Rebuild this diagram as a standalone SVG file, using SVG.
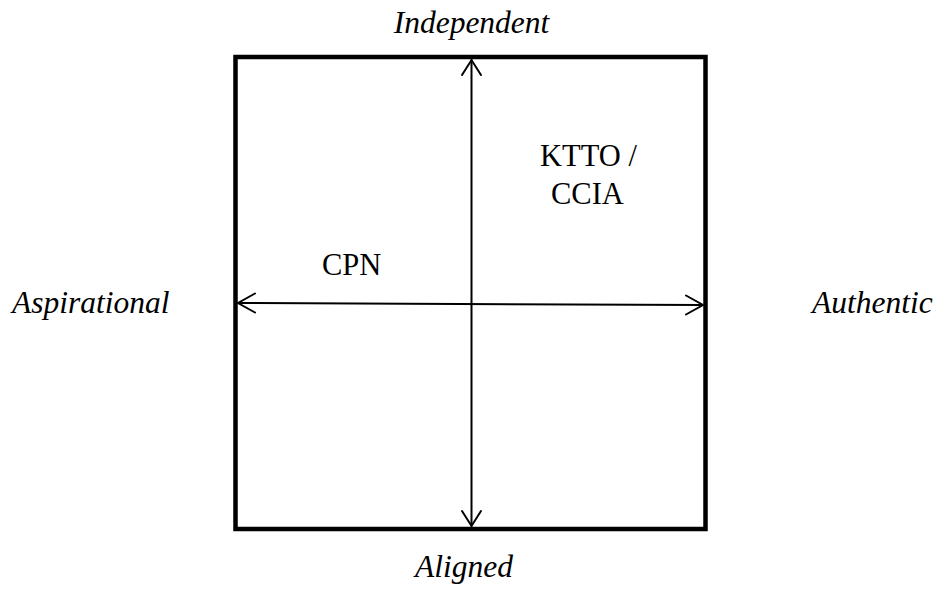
<svg xmlns="http://www.w3.org/2000/svg" width="940" height="590" viewBox="0 0 940 590">
<style>
.axis{font-family:"Liberation Serif","Times New Roman",serif;font-style:italic;font-size:31.5px;fill:#000}
.lbl{font-family:"Liberation Serif","Times New Roman",serif;font-size:30.5px;fill:#000}
.ln{stroke:#000;stroke-width:2;fill:none}
.hd{stroke:#000;stroke-width:2;fill:none;stroke-linecap:round;stroke-linejoin:miter}
</style>
<rect width="940" height="590" fill="#fff"/>
<g id="frame">
<rect x="235.5" y="57" width="470" height="472" fill="none" stroke="#000" stroke-width="4.5"/>
</g>
<g id="connectors">
<line class="ln" x1="471.5" y1="59.5" x2="471.5" y2="526.5"/>
<polyline class="hd" points="462,75 471.5,60 481,75"/>
<polyline class="hd" points="462,511 471.5,526 481,511"/>
<line class="ln" x1="238" y1="303" x2="703" y2="305"/>
<polyline class="hd" points="255,293.5 238,303 255,312.5"/>
<polyline class="hd" points="686,295.5 703,305 686,314.5"/>
</g>
<g id="independent"><text class="axis" x="471.5" y="33" text-anchor="middle">Independent</text></g>
<g id="aligned"><text class="axis" x="464" y="577" text-anchor="middle">Aligned</text></g>
<g id="aspirational"><text class="axis" x="12" y="313">Aspirational</text></g>
<g id="authentic"><text class="axis" x="812" y="313">Authentic</text></g>
<g id="cpn"><text class="lbl" x="322" y="275">CPN</text></g>
<g id="ktto"><text class="lbl" x="540" y="166">KTTO /</text><text class="lbl" x="551" y="204">CCIA</text></g>
</svg>
